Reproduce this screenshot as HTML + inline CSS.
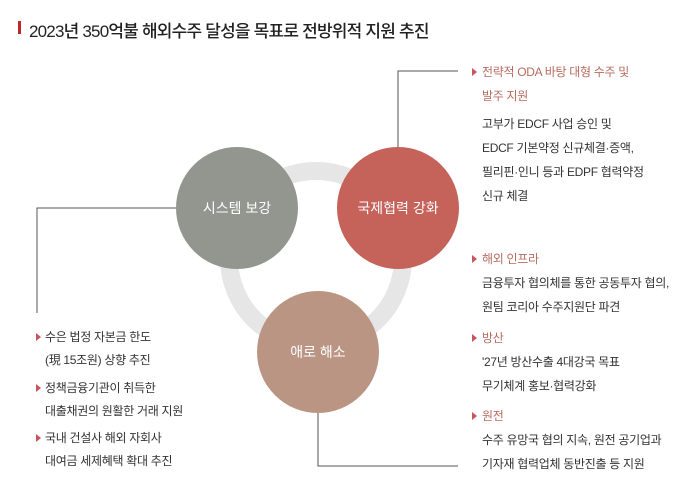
<!DOCTYPE html>
<html><head><meta charset="utf-8"><style>
body{margin:0;width:680px;height:485px;background:#fff;position:relative;overflow:hidden;font-family:"Liberation Sans","Noto Sans CJK KR",sans-serif;}
.t{position:absolute;font-size:12px;color:#333;white-space:nowrap;line-height:14px;letter-spacing:-0.3px}
.h{color:#b86b5e}
.b{position:absolute;width:0;height:0;border-left:5px solid #c9545e;border-top:4px solid transparent;border-bottom:4px solid transparent}
</style></head><body>
<div style="position:absolute;left:18px;top:21px;width:3px;height:13px;background:#c0272d"></div>
<div style="position:absolute;left:29px;top:17px;font-size:17px;color:#222;letter-spacing:-0.8px;white-space:nowrap;font-weight:500">2023년 350억불 해외수주 달성을 목표로 전방위적 지원 추진</div>
<svg width="680" height="485" style="position:absolute;left:0;top:0">
<circle cx="316" cy="258" r="87" fill="none" stroke="#e6e6e7" stroke-width="18"/>
<g stroke="#555" stroke-width="1" fill="none">
<polyline points="176,208 37,208 37,313"/>
<polyline points="398,148 398,71 458,71"/>
<polyline points="318,413 318,466 458,466"/>
</g>
<circle cx="237" cy="208" r="61" fill="#93958f"/>
<circle cx="398" cy="208" r="61" fill="#c5625a"/>
<circle cx="318" cy="352" r="61" fill="#bb9583"/>
<g fill="#fff" font-size="14" text-anchor="middle" font-family="Liberation Sans, Noto Sans CJK KR, sans-serif">
<text x="237" y="213">시스템 보강</text>
<text x="398" y="213">국제협력 강화</text>
<text x="318" y="357">애로 해소</text>
</g>
</svg>
<div class="b" style="left:472px;top:68px"></div>
<div class="t h" style="left:482px;top:65px">전략적 ODA 바탕 대형 수주 및</div>
<div class="t h" style="left:482px;top:89px">발주 지원</div>
<div class="t" style="left:482px;top:117px">고부가 EDCF 사업 승인 및</div>
<div class="t" style="left:482px;top:141px">EDCF 기본약정 신규체결·증액,</div>
<div class="t" style="left:482px;top:165px">필리핀·인니 등과 EDPF 협력약정</div>
<div class="t" style="left:482px;top:189px">신규 체결</div>
<div class="b" style="left:472px;top:255px"></div>
<div class="t h" style="left:482px;top:252px">해외 인프라</div>
<div class="t" style="left:482px;top:276px">금융투자 협의체를 통한 공동투자 협의,</div>
<div class="t" style="left:482px;top:300px">원팀 코리아 수주지원단 파견</div>
<div class="b" style="left:472px;top:334px"></div>
<div class="t h" style="left:482px;top:331px">방산</div>
<div class="t" style="left:482px;top:355px">'27년 방산수출 4대강국 목표</div>
<div class="t" style="left:482px;top:379px">무기체계 홍보·협력강화</div>
<div class="b" style="left:472px;top:412px"></div>
<div class="t h" style="left:482px;top:409px">원전</div>
<div class="t" style="left:482px;top:433px">수주 유망국 협의 지속, 원전 공기업과</div>
<div class="t" style="left:482px;top:457px">기자재 협력업체 동반진출 등 지원</div>
<div class="b" style="left:36px;top:333px"></div>
<div class="t" style="left:45px;top:330px">수은 법정 자본금 한도</div>
<div class="t" style="left:45px;top:353px">(現 15조원) 상향 추진</div>
<div class="b" style="left:36px;top:384px"></div>
<div class="t" style="left:45px;top:381px">정책금융기관이 취득한</div>
<div class="t" style="left:45px;top:404px">대출채권의 원활한 거래 지원</div>
<div class="b" style="left:36px;top:434px"></div>
<div class="t" style="left:45px;top:431px">국내 건설사 해외 자회사</div>
<div class="t" style="left:45px;top:454px">대여금 세제혜택 확대 추진</div>
</body></html>
